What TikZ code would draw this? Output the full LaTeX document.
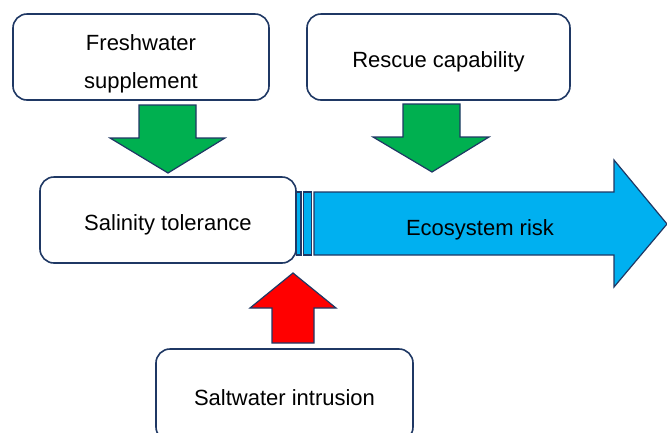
\documentclass[tikz,border=0pt]{standalone}
\usepackage{fontspec}
\setmainfont{Liberation Sans}
\usepackage{xcolor}
\usepackage{tikz}
\usetikzlibrary{arrows.meta, positioning}
\definecolor{edgecol}{RGB}{31,56,100}
\definecolor{pushcol}{RGB}{0,176,80}
\definecolor{riskcol}{RGB}{0,176,240}
\definecolor{saltcol}{RGB}{255,0,0}

\begin{document}
\begin{tikzpicture}[
        x=1pt, y=-1pt,
        factor/.style={rectangle, rounded corners=14pt, draw=edgecol,
                       line width=1.6pt, fill=white,
                       minimum width=256pt, minimum height=86pt,
                       inner sep=0pt, align=center,
                       text height=20pt, text depth=0pt,
                       font=\fontsize{22}{38}\selectfont},
        blockarr/.style={draw=edgecol, line width=1.2pt, line join=miter},
      ]
        \clip (0,0) rectangle (667,432);

        % ── Ecosystem risk arrow ──
        \draw[blockarr, fill=riskcol] (314,192) -- (614,192) -- (614,160)
          -- (667,224) -- (614,287) -- (614,255) -- (314,255) -- cycle;
        \node[font=\fontsize{22}{26}\selectfont] (risk) at (480,230) {Ecosystem risk};

        % ── Factors ──
        \node[factor, text height=62pt, text depth=0pt] (fresh) at (141,57)
          {Freshwater\\supplement};
        \node[factor, minimum width=263pt] (rescue) at (438.5,57) {Rescue capability};
        \node[factor] (salin)  at (168,220)   {Salinity tolerance};
        \node[factor, minimum width=257pt, minimum height=92pt] (salt) at (284.5,395)
          {Saltwater intrusion};

        % ── stripes ──
        \draw[blockarr, fill=riskcol] (296.5,192) rectangle (301,255);
        \draw[blockarr, fill=riskcol] (303.5,192) rectangle (311.5,255);

        % ── Influence arrows ──
        \draw[blockarr, fill=pushcol] (139,105) -- (196,105) -- (196,138)
          -- (225,138) -- (168,173) -- (110,138) -- (139,138) -- cycle;
        \draw[blockarr, fill=pushcol] (403,104) -- (460,104) -- (460,137)
          -- (489,137) -- (432,172) -- (373,137) -- (403,137) -- cycle;
        \draw[blockarr, fill=saltcol] (272,343) -- (314,343) -- (314,308)
          -- (336,308) -- (293,273) -- (250,308) -- (272,308) -- cycle;
      \end{tikzpicture}
\end{document}
